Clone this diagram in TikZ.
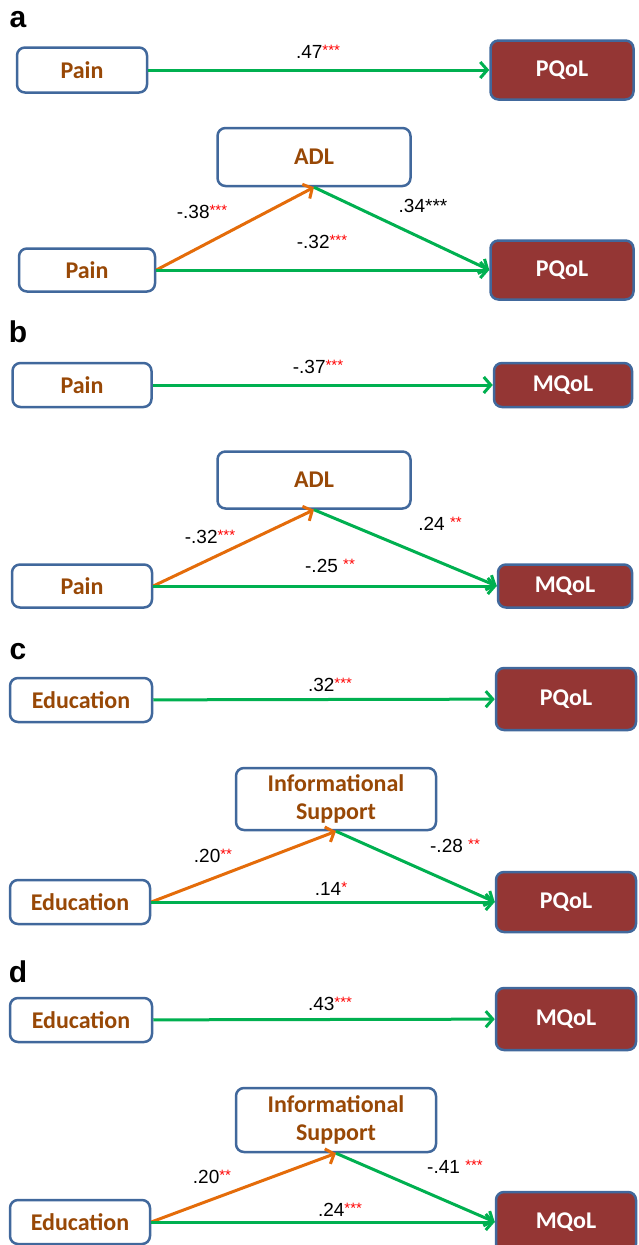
\documentclass[tikz,border=0pt]{standalone}
\usepackage{fontspec}
\setmainfont{Liberation Sans}
\newfontfamily\boxfont{Carlito}
\usetikzlibrary{arrows.meta}
\definecolor{boxline}{HTML}{41689C}
\definecolor{qolfill}{HTML}{943634}
\definecolor{txtbrown}{HTML}{984806}
\definecolor{pathgreen}{HTML}{00B050}
\definecolor{pathorange}{HTML}{E46C0A}
\newcommand{\sig}[1]{\raisebox{3pt}{\fontsize{15}{15}\selectfont\textcolor{red}{#1}}}
\tikzset{
  var/.style={draw=boxline, line width=2.5pt, rounded corners=8pt, fill=white,
    text=txtbrown, font=\boxfont\bfseries\fontsize{24}{28}\selectfont,
    align=center, inner sep=0pt},
  qol/.style={var, fill=qolfill, text=white},
  effect/.style={draw=pathgreen, line width=3pt,
    -{Straight Barb[length=7pt,width=16pt,line width=3pt]}},
  coef/.style={font=\fontsize{19}{21}\selectfont, inner sep=0pt},
  panel/.style={font=\bfseries\fontsize{30}{30}\selectfont, inner sep=0pt}
}
\begin{document}
\begin{tikzpicture}[x=1pt, y=-1pt]
\useasboundingbox (0,0) rectangle (638,1245);
\foreach \l/\y in {a/20, b/332, c/652, d/972}
    \node[panel] (lbl\l) at (18,\y) {\l};
% a
\node[var, minimum width=130, minimum height=45] (painA) at (82,70) {Pain};
\node[qol, minimum width=143, minimum height=59] (pqolA) at (562,70) {PQoL};
\draw[effect] (painA) -- (pqolA);
\node[coef] (cA) at (318,52) {.47\sig{***}};
\node[var, minimum width=193, minimum height=58] (adlA) at (314,157) {ADL};
\node[var, minimum width=136, minimum height=43] (painAm) at (87,270) {Pain};
\node[qol, minimum width=143, minimum height=59] (pqolAm) at (562,270) {PQoL};
\draw[effect, draw=pathorange] (painAm.east) -- (adlA.south);
\draw[effect] (adlA.south) -- (pqolAm.west);
\draw[effect] (painAm.east) -- (pqolAm.west);
\node[coef] (cA1) at (202,212) {-.38\sig{***}};
\node[coef] (cA2) at (423,206) {.34***};
\node[coef] (cA3) at (322,242) {-.32\sig{***}};
% b
\node[var, minimum width=139, minimum height=44] (painB) at (82,385) {Pain};
\node[qol, minimum width=138, minimum height=44] (mqolB) at (563,385) {MQoL};
\draw[effect] (painB) -- (mqolB);
\node[coef] (cB) at (318,367) {-.37\sig{***}};
\node[var, minimum width=193, minimum height=57] (adlB) at (314,480) {ADL};
\node[var, minimum width=140, minimum height=43] (painBm) at (82,586) {Pain};
\node[qol, minimum width=134, minimum height=43] (mqolBm) at (565,586) {MQoL};
\draw[effect, draw=pathorange] (painBm.east) -- (adlB.south);
\draw[effect] (adlB.south) -- (mqolBm.west);
\draw[effect] (painBm.east) -- (mqolBm.west);
\node[coef] (cB1) at (210,537) {-.32\sig{***}};
\node[coef] (cB2) at (440,524) {.24 \sig{**}};
\node[coef] (cB3) at (330,566) {-.25 \sig{**}};
% c
\node[var, minimum width=142, minimum height=44] (eduC) at (81,700) {Education};
\node[qol, minimum width=140, minimum height=62] (pqolC) at (566,699) {PQoL};
\draw[effect] (eduC) -- (pqolC);
\node[coef] (cC) at (330,685) {.32\sig{***}};
\node[var, minimum width=200, minimum height=62] (infoC) at (336,799) {Informational\\Support};
\node[var, minimum width=140, minimum height=44] (eduCm) at (80,902) {Education};
\node[qol, minimum width=140, minimum height=60] (pqolCm) at (566,902) {PQoL};
\draw[effect, draw=pathorange] (eduCm.east) -- (infoC.south);
\draw[effect] (infoC.south) -- (pqolCm.west);
\draw[effect] (eduCm.east) -- (pqolCm.west);
\node[coef] (cC1) at (213,856) {.20\sig{**}};
\node[coef] (cC2) at (455,846) {-.28 \sig{**}};
\node[coef] (cC3) at (331,889) {.14\sig{*}};
% d
\node[var, minimum width=142, minimum height=44] (eduD) at (81,1020) {Education};
\node[qol, minimum width=140, minimum height=62] (mqolD) at (566,1019) {MQoL};
\draw[effect] (eduD) -- (mqolD);
\node[coef] (cD) at (330,1004) {.43\sig{***}};
\node[var, minimum width=200, minimum height=64] (infoD) at (336,1120) {Informational\\Support};
\node[var, minimum width=140, minimum height=44] (eduDm) at (80,1222) {Education};
\node[qol, minimum width=140, minimum height=60] (mqolDm) at (566,1222) {MQoL};
\draw[effect, draw=pathorange] (eduDm.east) -- (infoD.south);
\draw[effect] (infoD.south) -- (mqolDm.west);
\draw[effect] (eduDm.east) -- (mqolDm.west);
\node[coef] (cD1) at (212,1177) {.20\sig{**}};
\node[coef] (cD2) at (455,1167) {-.41 \sig{***}};
\node[coef] (cD3) at (340,1210) {.24\sig{***}};
\end{tikzpicture}
\end{document}
